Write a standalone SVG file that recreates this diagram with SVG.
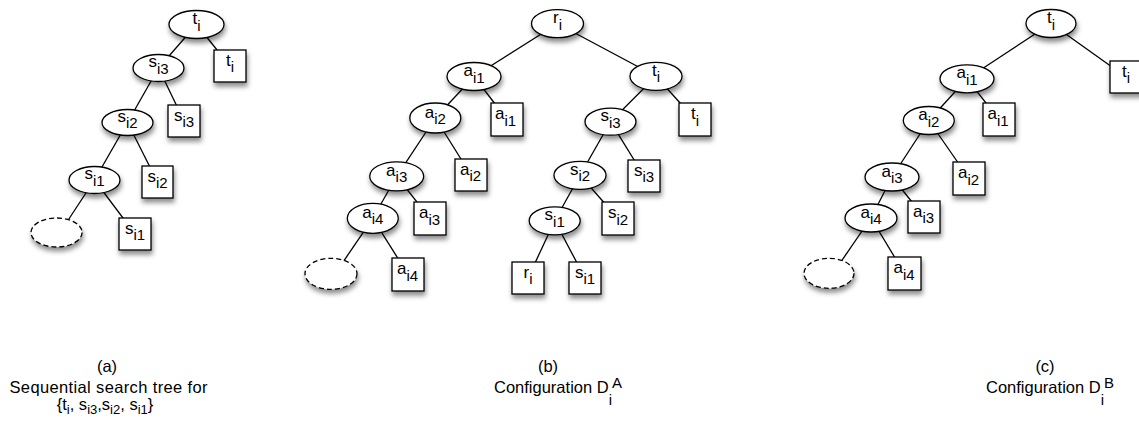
<svg xmlns="http://www.w3.org/2000/svg" width="1139" height="422" viewBox="0 0 1139 422">
<defs>
<filter id="sh" x="-40%" y="-40%" width="180%" height="190%">
<feDropShadow dx="1" dy="4" stdDeviation="2.5" flood-color="#000" flood-opacity="0.45"/>
</filter>
<style>
.n{fill:#fff;stroke:#000;stroke-width:1.3;filter:url(#sh)}
.d{fill:#fff;stroke:#000;stroke-width:1.3;stroke-dasharray:5 3;filter:url(#sh)}
.e{stroke:#000;stroke-width:1.3;fill:none}
.l{font-family:"Liberation Sans",Arial,sans-serif;font-size:17px;fill:#000;text-anchor:middle}
.s{font-size:15px}
.c{font-family:"Liberation Sans",Arial,sans-serif;font-size:16.5px;fill:#000}
.m{text-anchor:middle}
.cs{font-size:13px}
.cp{font-size:15px}
</style>
</defs>
<rect width="1139" height="422" fill="#fff"/>
<g id="connectors" class="e">
<line x1="196.5" y1="24.5" x2="158.5" y2="68"/>
<line x1="196.5" y1="24.5" x2="230" y2="66"/>
<line x1="158.5" y1="68" x2="127.5" y2="122.5"/>
<line x1="158.5" y1="68" x2="184" y2="121"/>
<line x1="127.5" y1="122.5" x2="94.5" y2="180"/>
<line x1="127.5" y1="122.5" x2="157.5" y2="182"/>
<line x1="94.5" y1="180" x2="60" y2="232.5"/>
<line x1="94.5" y1="180" x2="135" y2="234"/>
<line x1="557.5" y1="23.7" x2="474" y2="76.5"/>
<line x1="557.5" y1="23.7" x2="656" y2="76.3"/>
<line x1="474" y1="76.5" x2="435.3" y2="118"/>
<line x1="474" y1="76.5" x2="507" y2="119.5"/>
<line x1="435.3" y1="118" x2="396.7" y2="176.3"/>
<line x1="435.3" y1="118" x2="471" y2="175"/>
<line x1="396.7" y1="176.3" x2="372.8" y2="218.3"/>
<line x1="396.7" y1="176.3" x2="430" y2="218.5"/>
<line x1="372.8" y1="218.3" x2="335" y2="273.8"/>
<line x1="372.8" y1="218.3" x2="408" y2="274.5"/>
<line x1="656" y1="76.3" x2="610.5" y2="121.7"/>
<line x1="656" y1="76.3" x2="695" y2="119.5"/>
<line x1="610.5" y1="121.7" x2="580" y2="175.3"/>
<line x1="610.5" y1="121.7" x2="644" y2="176"/>
<line x1="580" y1="175.3" x2="554.7" y2="220.8"/>
<line x1="580" y1="175.3" x2="618" y2="218.5"/>
<line x1="554.7" y1="220.8" x2="528" y2="278"/>
<line x1="554.7" y1="220.8" x2="585" y2="278"/>
<line x1="1051" y1="23.5" x2="967" y2="78.8"/>
<line x1="1051" y1="23.5" x2="1126" y2="77"/>
<line x1="967" y1="78.8" x2="928.8" y2="120.5"/>
<line x1="967" y1="78.8" x2="999" y2="119.5"/>
<line x1="928.8" y1="120.5" x2="892" y2="177"/>
<line x1="928.8" y1="120.5" x2="969" y2="178.5"/>
<line x1="892" y1="177" x2="871" y2="218"/>
<line x1="892" y1="177" x2="924" y2="217"/>
<line x1="871" y1="218" x2="833" y2="273.3"/>
<line x1="871" y1="218" x2="904.5" y2="273.5"/>
</g>
<g id="a_ti"><ellipse class="n" cx="196.5" cy="24.5" rx="27.5" ry="14"/><text class="l" x="196.5" y="24">t<tspan class="s" dy="6.5">i</tspan></text></g>
<g id="a_ti_box"><rect class="n" x="214" y="50" width="32" height="32"/><text class="l" x="230" y="65.5">t<tspan class="s" dy="6.5">i</tspan></text></g>
<g id="a_si3"><ellipse class="n" cx="158.5" cy="68" rx="25.5" ry="13.5"/><text class="l" x="158.5" y="67">s<tspan class="s" dy="6.5">i3</tspan></text></g>
<g id="a_si3_box"><rect class="n" x="168" y="105" width="32" height="32"/><text class="l" x="184" y="120.5">s<tspan class="s" dy="6.5">i3</tspan></text></g>
<g id="a_si2"><ellipse class="n" cx="127.5" cy="122.5" rx="25.5" ry="13"/><text class="l" x="127.5" y="121.5">s<tspan class="s" dy="6.5">i2</tspan></text></g>
<g id="a_si2_box"><rect class="n" x="142" y="166" width="31" height="32"/><text class="l" x="157.5" y="181.5">s<tspan class="s" dy="6.5">i2</tspan></text></g>
<g id="a_si1"><ellipse class="n" cx="94.5" cy="180" rx="25.5" ry="13.5"/><text class="l" x="94.5" y="179">s<tspan class="s" dy="6.5">i1</tspan></text></g>
<g id="a_si1_box"><rect class="n" x="119" y="218" width="32" height="32"/><text class="l" x="135" y="233.5">s<tspan class="s" dy="6.5">i1</tspan></text></g>
<g id="a_empty"><ellipse class="d" cx="56.5" cy="232.5" rx="25.5" ry="14.5"/></g>
<g id="b_ri"><ellipse class="n" cx="557.5" cy="23.7" rx="26" ry="14"/><text class="l" x="557.5" y="23">r<tspan class="s" dy="6.5">i</tspan></text></g>
<g id="b_ai1"><ellipse class="n" cx="474" cy="76.5" rx="27" ry="14"/><text class="l" x="474" y="76">a<tspan class="s" dy="6.5">i1</tspan></text></g>
<g id="b_ti"><ellipse class="n" cx="656" cy="76.3" rx="26" ry="14"/><text class="l" x="656" y="75.5">t<tspan class="s" dy="6.5">i</tspan></text></g>
<g id="b_ai1_box"><rect class="n" x="491" y="103" width="32" height="33"/><text class="l" x="505.5" y="119">a<tspan class="s" dy="6.5">i1</tspan></text></g>
<g id="b_ti_box"><rect class="n" x="679" y="103" width="32" height="33"/><text class="l" x="695" y="119">t<tspan class="s" dy="6.5">i</tspan></text></g>
<g id="b_ai2"><ellipse class="n" cx="435.3" cy="118" rx="25.5" ry="15"/><text class="l" x="435.3" y="117.5">a<tspan class="s" dy="6.5">i2</tspan></text></g>
<g id="b_si3"><ellipse class="n" cx="610.5" cy="121.7" rx="25.5" ry="13.5"/><text class="l" x="610.5" y="121">s<tspan class="s" dy="6.5">i3</tspan></text></g>
<g id="b_ai2_box"><rect class="n" x="455" y="159" width="32" height="32"/><text class="l" x="470.5" y="174.5">a<tspan class="s" dy="6.5">i2</tspan></text></g>
<g id="b_si3_box"><rect class="n" x="628" y="160" width="32" height="32"/><text class="l" x="644" y="175.5">s<tspan class="s" dy="6.5">i3</tspan></text></g>
<g id="b_ai3"><ellipse class="n" cx="396.7" cy="176.3" rx="27" ry="14.5"/><text class="l" x="396.7" y="175.5">a<tspan class="s" dy="6.5">i3</tspan></text></g>
<g id="b_si2"><ellipse class="n" cx="580" cy="175.3" rx="26" ry="14"/><text class="l" x="580" y="174.5">s<tspan class="s" dy="6.5">i2</tspan></text></g>
<g id="b_ai3_box"><rect class="n" x="414" y="202" width="32" height="33"/><text class="l" x="429.5" y="218">a<tspan class="s" dy="6.5">i3</tspan></text></g>
<g id="b_si2_box"><rect class="n" x="602" y="202" width="32" height="33"/><text class="l" x="618" y="218">s<tspan class="s" dy="6.5">i2</tspan></text></g>
<g id="b_ai4"><ellipse class="n" cx="372.8" cy="218.3" rx="25.5" ry="15"/><text class="l" x="372.8" y="217.5">a<tspan class="s" dy="6.5">i4</tspan></text></g>
<g id="b_si1"><ellipse class="n" cx="554.7" cy="220.8" rx="25.5" ry="14"/><text class="l" x="554.7" y="220">s<tspan class="s" dy="6.5">i1</tspan></text></g>
<g id="b_empty"><ellipse class="d" cx="331" cy="273.8" rx="26" ry="15.5"/></g>
<g id="b_ai4_box"><rect class="n" x="392" y="258" width="32" height="33"/><text class="l" x="407.5" y="274">a<tspan class="s" dy="6.5">i4</tspan></text></g>
<g id="b_ri_box"><rect class="n" x="512" y="262" width="32" height="32"/><text class="l" x="528" y="277.5">r<tspan class="s" dy="6.5">i</tspan></text></g>
<g id="b_si1_box"><rect class="n" x="569" y="262" width="32" height="32"/><text class="l" x="585" y="277.5">s<tspan class="s" dy="6.5">i1</tspan></text></g>
<g id="c_ti"><ellipse class="n" cx="1051" cy="23.5" rx="25" ry="14"/><text class="l" x="1051" y="23">t<tspan class="s" dy="6.5">i</tspan></text></g>
<g id="c_ti_box"><rect class="n" x="1110" y="61" width="32" height="32"/><text class="l" x="1126" y="76.5">t<tspan class="s" dy="6.5">i</tspan></text></g>
<g id="c_ai1"><ellipse class="n" cx="967" cy="78.8" rx="27" ry="14"/><text class="l" x="967" y="78">a<tspan class="s" dy="6.5">i1</tspan></text></g>
<g id="c_ai1_box"><rect class="n" x="983" y="103" width="32" height="33"/><text class="l" x="998" y="119">a<tspan class="s" dy="6.5">i1</tspan></text></g>
<g id="c_ai2"><ellipse class="n" cx="928.8" cy="120.5" rx="25.5" ry="14"/><text class="l" x="928.8" y="120">a<tspan class="s" dy="6.5">i2</tspan></text></g>
<g id="c_ai2_box"><rect class="n" x="953" y="162" width="32" height="33"/><text class="l" x="968.5" y="178">a<tspan class="s" dy="6.5">i2</tspan></text></g>
<g id="c_ai3"><ellipse class="n" cx="892" cy="177" rx="27" ry="14"/><text class="l" x="892" y="176.5">a<tspan class="s" dy="6.5">i3</tspan></text></g>
<g id="c_ai3_box"><rect class="n" x="908" y="201" width="32" height="32"/><text class="l" x="923.5" y="216.5">a<tspan class="s" dy="6.5">i3</tspan></text></g>
<g id="c_ai4"><ellipse class="n" cx="871" cy="218" rx="26" ry="14"/><text class="l" x="871" y="217.5">a<tspan class="s" dy="6.5">i4</tspan></text></g>
<g id="c_ai4_box"><rect class="n" x="888" y="257" width="33" height="33"/><text class="l" x="904" y="273">a<tspan class="s" dy="6.5">i4</tspan></text></g>
<g id="c_empty"><ellipse class="d" cx="829" cy="273.3" rx="25" ry="15"/></g>
<g id="caption_a">
<text class="c m" x="107" y="372">(a)</text>
<text class="c m" x="108.5" y="392.5" textLength="198" lengthAdjust="spacing">Sequential search tree for</text>
<text class="c m" x="105" y="410">{t<tspan class="cs" dy="3.5">i</tspan><tspan dy="-3.5">, s</tspan><tspan class="cs" dy="3.5">i3</tspan><tspan dy="-3.5">,s</tspan><tspan class="cs" dy="3.5">i2</tspan><tspan dy="-3.5">, s</tspan><tspan class="cs" dy="3.5">i1</tspan><tspan dy="-3.5">}</tspan></text>
</g>
<g id="caption_b">
<text class="c m" x="548" y="372">(b)</text>
<text class="c" x="494" y="393">Configuration D<tspan class="cp" dy="11.5">i</tspan><tspan class="cp" dy="-16.5">A</tspan></text>
</g>
<g id="caption_c">
<text class="c m" x="1045" y="372">(c)</text>
<text class="c" x="986" y="393">Configuration D<tspan class="cp" dy="11.5">i</tspan><tspan class="cp" dy="-16.5">B</tspan></text>
</g>
</svg>
